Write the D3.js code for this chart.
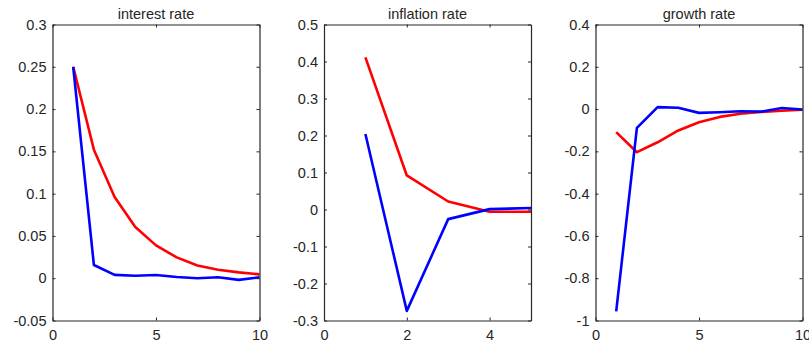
<!DOCTYPE html>
<html>
<head>
<meta charset="utf-8">
<script src="https://cdn.jsdelivr.net/npm/d3@7"></script>
<style>
  body { margin: 0; background: #fff; }
  svg text { font-family: "Liberation Sans", Arial, sans-serif; fill: #262626; }
</style>
</head>
<body>
<svg width="809" height="349"></svg>
<script>
// periods
const periodsLong = [1, 2, 3, 4, 5, 6, 7, 8, 9, 10];
const periodsShort = [1, 2, 3, 4, 5];

// interest rate responses
const interestRed = [0.25, 0.152, 0.096, 0.0605, 0.0388, 0.0246, 0.015, 0.010, 0.0069, 0.0045];
const interestBlue = [0.25, 0.0156, 0.004, 0.003, 0.0038, 0.0014, 0.0, 0.0012, -0.002, 0.001];

// inflation rate responses
const inflationRed = [0.411, 0.092, 0.0216, -0.006, -0.006];
const inflationBlue = [0.204, -0.274, -0.026, 0.001, 0.004];

// growth rate responses
const growthRed = [-0.109, -0.204, -0.157, -0.101, -0.062, -0.037, -0.022, -0.014, -0.008, -0.003];
const growthBlue = [-0.957, -0.089, 0.009, 0.006, -0.018, -0.015, -0.01, -0.012, 0.005, -0.002];

// axis settings
const titles = ["interest rate", "inflation rate", "growth rate"];
const xDomains = [[0, 10], [0, 5], [0, 10]];
const xTicks = [[0, 5, 10], [0, 2, 4], [0, 5, 10]];
const yDomains = [[-0.05, 0.3], [-0.3, 0.5], [-1, 0.4]];
const yTicks = [
  [-0.05, 0, 0.05, 0.1, 0.15, 0.2, 0.25, 0.3],
  [-0.3, -0.2, -0.1, 0, 0.1, 0.2, 0.3, 0.4, 0.5],
  [-1, -0.8, -0.6, -0.4, -0.2, 0, 0.2, 0.4]
];

const panels = [
  {x: periodsLong, red: interestRed, blue: interestBlue},
  {x: periodsShort, red: inflationRed, blue: inflationBlue},
  {x: periodsLong, red: growthRed, blue: growthBlue}
];

const svg = d3.select("svg");
const lefts = [52.5, 324, 595.5];
const plotW = 207, plotTop = 24.5, plotBottom = 320.5;
const tickLen = 3;

const fmt = v => String(+v.toFixed(4));

panels.forEach((p, i) => {
  const g = svg.append("g").attr("transform", `translate(${lefts[i]},0)`);
  const x = d3.scaleLinear().domain(xDomains[i]).range([0, plotW]);
  const y = d3.scaleLinear().domain(yDomains[i]).range([plotBottom, plotTop]);

  // lines
  const line = vals => d3.line().x((d, j) => x(p.x[j])).y(d => y(d))(vals);
  g.append("path").attr("d", line(p.red))
    .attr("fill", "none").attr("stroke", "#ff0000").attr("stroke-width", 2.6)
    .attr("stroke-linejoin", "round");
  g.append("path").attr("d", line(p.blue))
    .attr("fill", "none").attr("stroke", "#0000ff").attr("stroke-width", 2.6)
    .attr("stroke-linejoin", "round");

  // box axes with inward ticks
  const axisStyle = sel => {
    sel.select(".domain").attr("stroke", "#262626").attr("stroke-width", 1.2);
    sel.selectAll(".tick line").attr("stroke", "#262626");
    sel.selectAll("text").attr("font-size", 14.5).attr("fill", "#262626");
  };
  g.append("g").attr("transform", `translate(0,${plotBottom})`)
    .call(d3.axisBottom(x).tickValues(xTicks[i]).tickSizeInner(-tickLen).tickSizeOuter(0).tickPadding(7).tickFormat(fmt))
    .call(axisStyle).call(s => s.selectAll(".tick text").attr("dy", "0.85em"));
  g.append("g").attr("transform", `translate(0,${plotTop})`)
    .call(d3.axisTop(x).tickValues(xTicks[i]).tickSizeInner(-tickLen).tickSizeOuter(0).tickFormat(""))
    .call(axisStyle);
  g.append("g")
    .call(d3.axisLeft(y).tickValues(yTicks[i]).tickSizeInner(-tickLen).tickSizeOuter(0).tickPadding(6).tickFormat(fmt))
    .call(axisStyle);
  g.append("g").attr("transform", `translate(${plotW},0)`)
    .call(d3.axisRight(y).tickValues(yTicks[i]).tickSizeInner(-tickLen).tickSizeOuter(0).tickFormat(""))
    .call(axisStyle);

  g.append("text")
    .attr("x", plotW / 2).attr("y", 19)
    .attr("text-anchor", "middle")
    .attr("font-size", 14.5)
    .text(titles[i]);
});
</script>
</body>
</html>
